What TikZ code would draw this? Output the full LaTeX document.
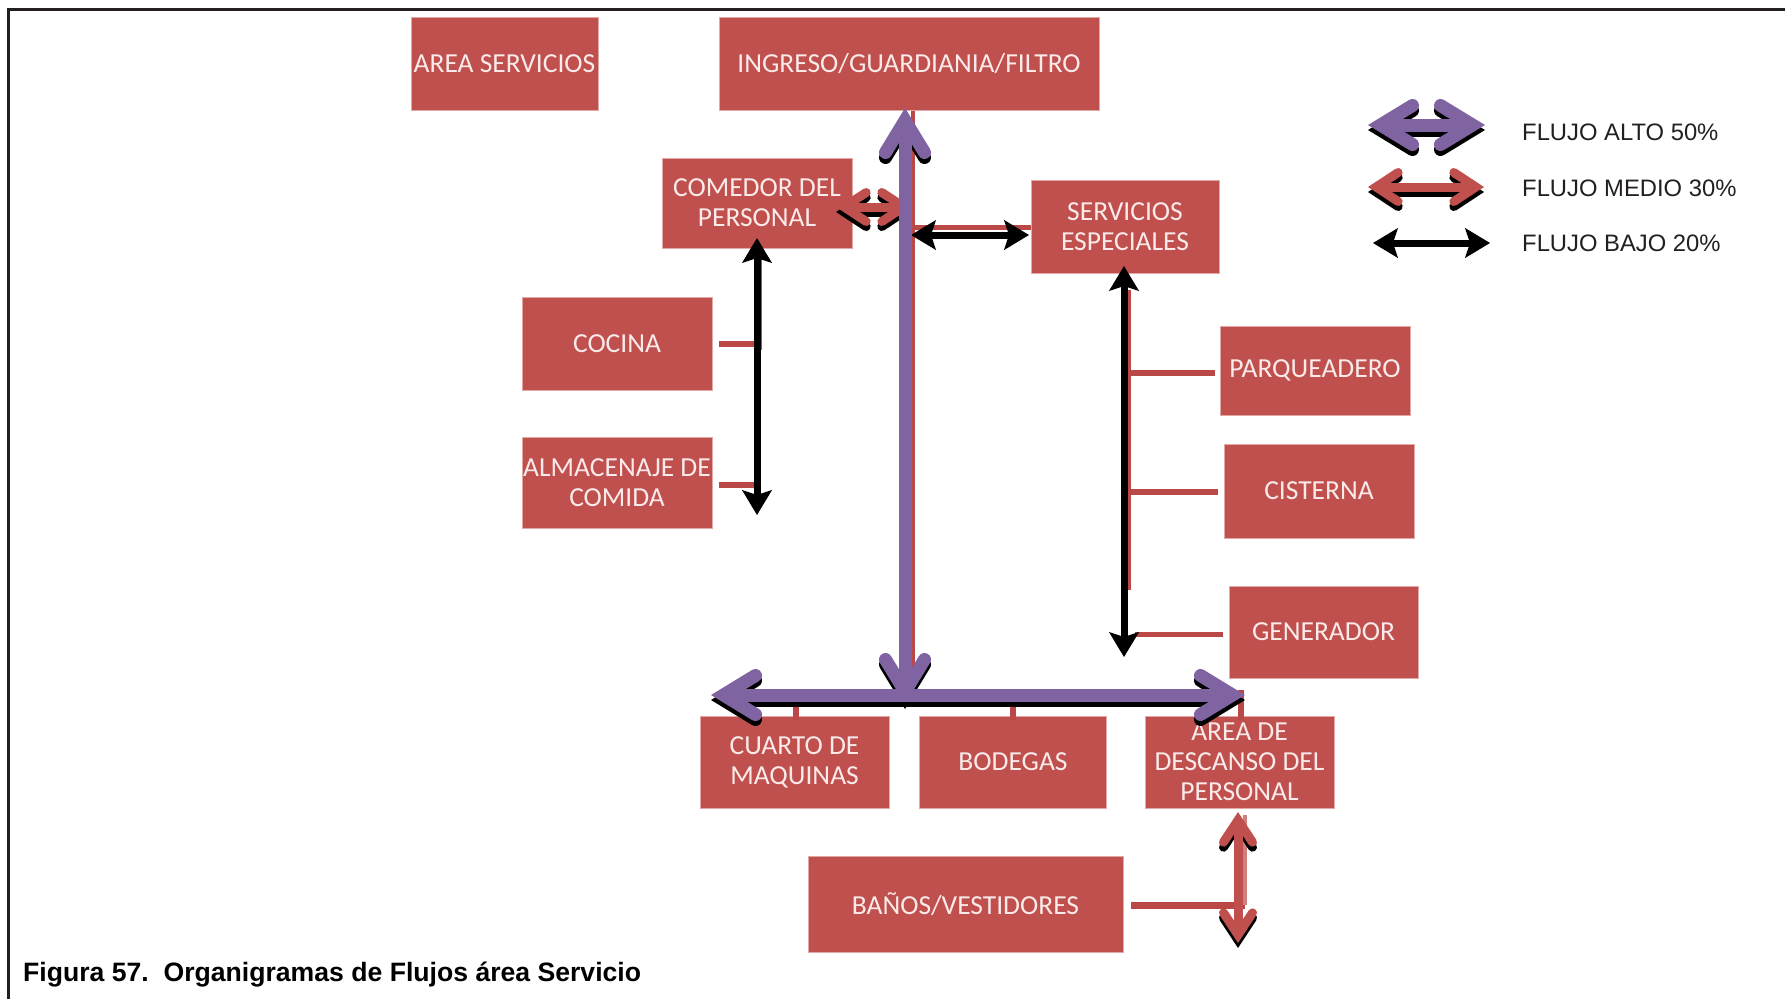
\documentclass[tikz,border=0pt]{standalone}
\usepackage{fontspec}
\setmainfont{Liberation Sans}
\newfontfamily\boxfont{Carlito}
\usetikzlibrary{arrows.meta}
\definecolor{boxred}{HTML}{C0504D}
\definecolor{boxedge}{RGB}{226,168,166}
\definecolor{boxtext}{RGB}{250,234,234}
\definecolor{flowpurple}{HTML}{8064A2}
\definecolor{flowred}{HTML}{C0504D}
\definecolor{linkred}{RGB}{185,72,70}
\definecolor{inkgray}{RGB}{35,31,32}
\tikzset{
  hihead/.tip={Straight Barb[length=32pt,width=39pt,line cap=round,line join=miter]},
  midhead/.tip={Straight Barb[length=22pt,width=29pt,line cap=round,line join=miter]},
  lohead/.tip={Stealth[length=25pt,width=30pt,inset=5pt,line width=1.5pt]},
}
\begin{document}
\begin{tikzpicture}[x=1pt,y=-1pt,
  box/.style={fill=boxred,draw=boxedge,line width=1pt,inner sep=0pt,align=center,
    text=boxtext,font=\boxfont\fontsize{27.5}{30}\selectfont},
  link/.style={draw=linkred,line width=#1},
  link/.default=4pt,
  hiflow/.style={draw=flowpurple,line width=13pt,arrows={hihead-hihead}},
  midflow/.style={draw=flowred,line width=9pt,arrows={midhead-midhead}},
  loflow/.style={draw=black,line width=7pt,arrows={lohead-lohead}},
  drop/.style={draw=black,transform canvas={shift={(0,5)}}},
  legendtext/.style={anchor=base west,inner sep=0pt,text=inkgray,font=\fontsize{23.8}{28}\selectfont},
]
\useasboundingbox (0,0) rectangle (1785,999);
% frame
\draw[line width=3pt,draw=inkgray] (8,999) -- (8,9.5) -- (1785,9.5);

% boxes
\node[box,minimum width=187pt,minimum height=93pt] (areaserv) at (504.5,63.5) {AREA SERVICIOS};
\node[box,minimum width=380pt,minimum height=93pt] (ingreso) at (909,63.5) {INGRESO/GUARDIANIA/FILTRO};
\node[box,minimum width=190pt,minimum height=90pt] (comedor) at (757,203) {COMEDOR DEL\\PERSONAL};
\node[box,minimum width=188pt,minimum height=93pt] (servesp) at (1125,226.5) {SERVICIOS\\ESPECIALES};
\node[box,minimum width=190pt,minimum height=93pt] (cocina) at (617,343.5) {COCINA};
\node[box,minimum width=190pt,minimum height=91pt] (almacen) at (617,482.5) {ALMACENAJE DE\\COMIDA};
\node[box,minimum width=190pt,minimum height=89pt] (parq) at (1315,370.5) {PARQUEADERO};
\node[box,minimum width=190pt,minimum height=94pt] (cisterna) at (1319,491) {CISTERNA};
\node[box,minimum width=189pt,minimum height=92pt] (generador) at (1323.5,632) {GENERADOR};
\node[box,minimum width=189pt,minimum height=92pt] (cuarto) at (794.5,762) {CUARTO DE\\MAQUINAS};
\node[box,minimum width=187pt,minimum height=92pt] (bodegas) at (1013,762) {BODEGAS};
\node[box,minimum width=189pt,minimum height=92pt] (descanso) at (1239.5,762) {AREA DE\\DESCANSO DEL\\PERSONAL};
\node[box,minimum width=315pt,minimum height=96pt] (banos) at (965.5,904) {BAÑOS/VESTIDORES};

% named ends
\coordinate (redtrunk) at (913,690);
\coordinate (seslink) at (913,227);
\coordinate (comtrunk) at (760,350);
\coordinate (comtop) at (760,250);
\coordinate (cocstub) at (760,344);
\coordinate (almstub) at (760,485);
\coordinate (sestop) at (1129,290);
\coordinate (sesbot) at (1129,590);
\coordinate (parstub) at (1129,373);
\coordinate (cisstub) at (1129,492);
\coordinate (genstub) at (1135,634);
\coordinate (cuastub) at (796,700);
\coordinate (bodstub) at (1013,700);
\coordinate (desstub) at (1241,690);
\coordinate (banstub) at (1245,905);
\coordinate (bantop) at (1245,815);

% thin connectors
\draw[link=3.5pt] ([xshift=4pt]ingreso.south) -- (redtrunk);
\draw[link=5pt] (seslink) -- (seslink -| servesp.west);
\draw[link=3.5pt] (comtop) -- (comtrunk);
\draw[link=5.5pt] ([xshift=6pt]cocina.east |- cocstub) -- (cocstub);
\draw[link=5.5pt] ([xshift=6pt]almacen.east |- almstub) -- (almstub);
\draw[link=3.5pt] (sestop) -- (sesbot);
\draw[link=6pt] (parstub) -- ([xshift=-5pt]parq.west |- parstub);
\draw[link=6pt] (cisstub) -- ([xshift=-6pt]cisterna.west |- cisstub);
\draw[link=5pt] (genstub) -- ([xshift=-6pt]generador.west |- genstub);
\draw[link=6pt] (cuastub) -- ([yshift=-4pt]cuastub |- cuarto.north);
\draw[link=6pt] (bodstub) -- ([yshift=-4pt]bodstub |- bodegas.north);
\draw[link=6pt] (desstub) -- ([yshift=-4pt]desstub |- descanso.north);
\draw[link=7pt] ([xshift=7pt]banos.east |- banstub) -- (banstub);
\draw[link=4pt,draw=linkred!70] (bantop) -- (banstub);

% flows
\coordinate (pv1) at (905,108);
\coordinate (pv2) at (905,704);
\coordinate (ph1) at (711,695);
\coordinate (ph2) at (1245,695);
\coordinate (cr1) at (836,207);
\coordinate (cr2) at (912,207);
\coordinate (sb1) at (911,235);
\coordinate (sb2) at (1029,235);
\coordinate (cb1) at (757,238);
\coordinate (cb2) at (757,515);
\coordinate (vb1) at (1124,266);
\coordinate (vb2) at (1124,657);
\coordinate (br1) at (1238,812);
\coordinate (br2) at (1238,943);

\draw[midflow,drop] (cr1) -- (cr2);
\draw[midflow] (cr1) -- (cr2);
\draw[loflow] (sb1) -- (sb2);
\draw[loflow] (cb1) -- (cb2);
\draw[loflow] (vb1) -- (vb2);
\draw[midflow,drop] (br1) -- (br2);
\draw[midflow] (br1) -- (br2);
\draw[hiflow,drop] (pv1) -- (pv2);
\draw[hiflow] (pv1) -- (pv2);
\draw[hiflow,drop] (ph1) -- (ph2);
\draw[hiflow] (ph1) -- (ph2);

% legend
\coordinate (lp1) at (1368,125);
\coordinate (lp2) at (1485,125);
\coordinate (lm1) at (1368,187);
\coordinate (lm2) at (1484,187);
\coordinate (ll1) at (1373,243);
\coordinate (ll2) at (1490,243);
\draw[hiflow,drop] (lp1) -- (lp2);
\draw[hiflow] (lp1) -- (lp2);
\draw[midflow,drop] (lm1) -- (lm2);
\draw[midflow] (lm1) -- (lm2);
\draw[loflow] (ll1) -- (ll2);
\node[legendtext] (legalto) at (1522,140) {FLUJO ALTO 50\%};
\node[legendtext] (legmedio) at (1522,196) {FLUJO MEDIO 30\%};
\node[legendtext] (legbajo) at (1522,251) {FLUJO BAJO 20\%};

% caption
\node[anchor=base west,inner sep=0pt,text=black,font=\bfseries\fontsize{26.6}{31}\selectfont] (caption) at (23,981) {Figura 57.\ \ Organigramas de Flujos área Servicio};
\end{tikzpicture}
\end{document}
